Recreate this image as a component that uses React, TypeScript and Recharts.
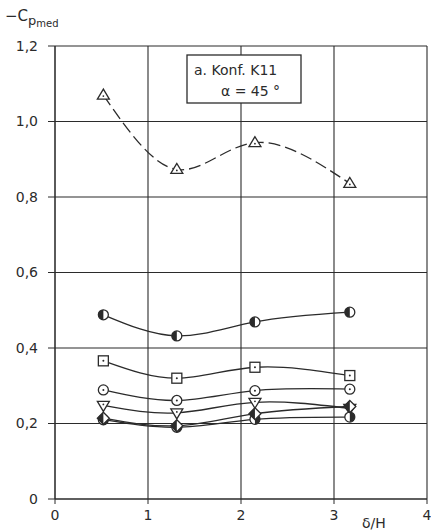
import React from 'react';
import { LineChart, Line, XAxis, YAxis, CartesianGrid } from 'recharts';

// delta/H positions of the measurement points
const xVals = [0.52, 1.31, 2.15, 3.17];

// -Cp_med per configuration
const triUp = [1.07, 0.873, 0.944, 0.836];
const halfCircle = [0.488, 0.432, 0.469, 0.495];
const squareDot = [0.366, 0.32, 0.349, 0.327];
const circleDot = [0.289, 0.261, 0.287, 0.291];
const triDown = [0.248, 0.228, 0.256, 0.24];
const diamondHalf = [0.214, 0.194, 0.226, 0.245];
const circleLow = [0.21, 0.19, 0.211, 0.217];

const xTicks = [0, 1, 2, 3, 4];
const yTicks = [0, 0.2, 0.4, 0.6, 0.8, 1.0, 1.2];

const INK = '#2b2b2b';
const FONT = '"DejaVu Sans", sans-serif';

const data = xVals.map((x, i) => ({
  x,
  triUp: triUp[i],
  halfCircle: halfCircle[i],
  squareDot: squareDot[i],
  circleDot: circleDot[i],
  triDown: triDown[i],
  diamondHalf: diamondHalf[i],
  circleLow: circleLow[i],
}));

type DotProps = { cx?: number; cy?: number; index?: number };

const r = 5;

const TriUpDot = ({ cx = 0, cy = 0, index }: DotProps) => (
  <g key={`tu-${index}`}>
    <polygon
      points={`${cx},${cy - r - 1} ${cx - r - 1},${cy + r - 1} ${cx + r + 1},${cy + r - 1}`}
      fill="#fff"
      stroke={INK}
      strokeWidth={1.3}
    />
    <circle cx={cx} cy={cy + 1} r={0.9} fill={INK} />
  </g>
);

const TriDownDot = ({ cx = 0, cy = 0, index }: DotProps) => (
  <g key={`td-${index}`}>
    <polygon
      points={`${cx - r - 1},${cy - r + 1} ${cx + r + 1},${cy - r + 1} ${cx},${cy + r + 1}`}
      fill="#fff"
      stroke={INK}
      strokeWidth={1.3}
    />
    <circle cx={cx} cy={cy - 1} r={0.9} fill={INK} />
  </g>
);

const HalfCircleDot = ({ cx = 0, cy = 0, index }: DotProps) => (
  <g key={`hc-${index}`}>
    <circle cx={cx} cy={cy} r={r} fill="#fff" stroke={INK} strokeWidth={1.3} />
    <path d={`M${cx},${cy - r} A${r},${r} 0 0 0 ${cx},${cy + r} Z`} fill={INK} />
  </g>
);

const SquareDot = ({ cx = 0, cy = 0, index }: DotProps) => (
  <g key={`sq-${index}`}>
    <rect x={cx - r} y={cy - r} width={2 * r} height={2 * r} fill="#fff" stroke={INK} strokeWidth={1.3} />
    <circle cx={cx} cy={cy} r={1} fill={INK} />
  </g>
);

const CircleDot = ({ cx = 0, cy = 0, index }: DotProps) => (
  <g key={`cd-${index}`}>
    <circle cx={cx} cy={cy} r={r} fill="#fff" stroke={INK} strokeWidth={1.3} />
    <circle cx={cx} cy={cy} r={1} fill={INK} />
  </g>
);

const DiamondHalfDot = ({ cx = 0, cy = 0, index }: DotProps) => (
  <g key={`dh-${index}`}>
    <polygon
      points={`${cx},${cy - r - 1} ${cx + r + 1},${cy} ${cx},${cy + r + 1} ${cx - r - 1},${cy}`}
      fill="#fff"
      stroke={INK}
      strokeWidth={1.3}
    />
    <polygon points={`${cx},${cy - r - 1} ${cx},${cy + r + 1} ${cx - r - 1},${cy}`} fill={INK} />
  </g>
);

const CircleLowDot = ({ cx = 0, cy = 0, index }: DotProps) => (
  <g key={`cl-${index}`}>
    <circle cx={cx} cy={cy} r={r} fill="#fff" stroke={INK} strokeWidth={1.3} />
    <path d={`M${cx},${cy - r} A${r},${r} 0 0 1 ${cx},${cy + r} Z`} fill={INK} />
  </g>
);

const fmtY = (v: number) => (v === 0 ? '0' : v.toFixed(1).replace('.', ','));

export default function App() {
  const tick = { fill: INK, fontSize: 14, fontFamily: FONT };
  const lineProps = {
    type: 'natural' as const,
    stroke: INK,
    strokeWidth: 1.3,
    isAnimationActive: false,
    activeDot: false as const,
  };
  return (
    <div style={{ position: 'absolute', left: 0, top: 0, width: 431, height: 532, background: '#fff' }}>
      <LineChart width={431} height={532} data={data} margin={{ top: 46, right: 4, left: 0, bottom: 0 }}>
        <CartesianGrid stroke={INK} strokeWidth={1.1} />
        <XAxis
          dataKey="x"
          type="number"
          domain={[0, 4]}
          ticks={xTicks}
          tick={tick}
          tickSize={5}
          tickMargin={6}
          stroke={INK}
          height={33}
          allowDataOverflow
        />
        <YAxis
          type="number"
          domain={[0, 1.2]}
          ticks={yTicks}
          tickFormatter={fmtY}
          tick={tick}
          tickSize={7}
          tickMargin={10}
          stroke={INK}
          width={55}
        />
        <Line dataKey="triUp" {...lineProps} strokeDasharray="12 5" dot={TriUpDot} />
        <Line dataKey="halfCircle" {...lineProps} dot={HalfCircleDot} />
        <Line dataKey="squareDot" {...lineProps} dot={SquareDot} />
        <Line dataKey="circleDot" {...lineProps} dot={CircleDot} />
        <Line dataKey="triDown" {...lineProps} dot={TriDownDot} />
        <Line dataKey="circleLow" {...lineProps} dot={CircleLowDot} />
        <Line dataKey="diamondHalf" {...lineProps} dot={DiamondHalfDot} />
      </LineChart>
      <svg
        width={431}
        height={532}
        style={{ position: 'absolute', left: 0, top: 0, pointerEvents: 'none' }}
        fontFamily={FONT}
        fill={INK}
      >
        <text x={5} y={21} fontSize={15}>
          −C
          <tspan fontSize={13} dy={4}>p</tspan>
          <tspan fontSize={10} dy={2}>med</tspan>
        </text>
        <rect x={187} y={55} width={114} height={48} fill="#fff" stroke={INK} strokeWidth={1.3} />
        <text x={194} y={75} fontSize={14}>a.  Konf. K11</text>
        <text x={221} y={96} fontSize={14}>α  = 45 °</text>
        <text x={362} y={528} fontSize={14}>δ/H</text>
      </svg>
    </div>
  );
}
